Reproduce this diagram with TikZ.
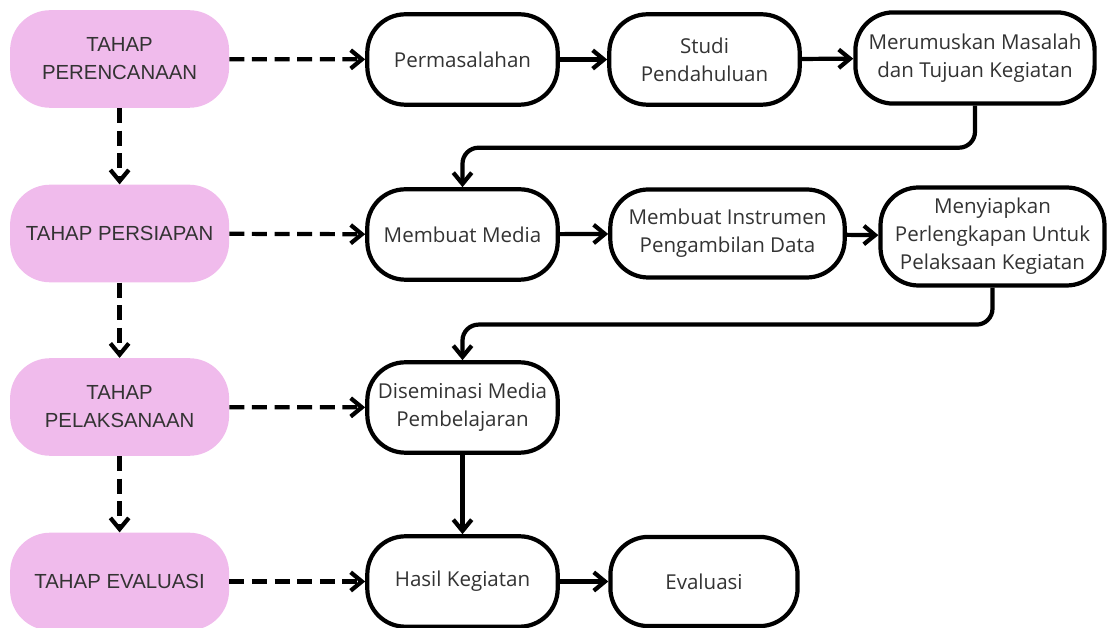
\documentclass[tikz,border=0pt]{standalone}
\usepackage{xcolor}
\usepackage{fontspec}
\setmainfont{Open Sans}
\newfontfamily\tahapfont{Liberation Sans}
\usepackage{tikz}
\usetikzlibrary{positioning,shapes,arrows.meta,calc}

\definecolor{merahmuda}{HTML}{F0BBEC}
\definecolor{teks}{HTML}{333333}

\tikzset{
    tahap/.style={rectangle, fill=merahmuda, rounded corners=1cm, minimum width=5.475cm,
        minimum height=2.44cm, align=center, text=teks,
        font=\tahapfont\fontsize{14.5pt}{19.9pt}\selectfont},
    langkah/.style={draw, rectangle, line width=3pt, rounded corners=0.95cm, fill=white,
        minimum width=4.76cm, minimum height=2.26cm, align=center, text=teks,
        font=\fontsize{14.6pt}{19.9pt}\selectfont},
    alur/.style={-{Straight Barb[length=2.8mm,width=4.6mm]}, line width=3pt},
    putus/.style={alur, dash pattern=on 3.75mm off 1.9mm}
}

\begin{document}
\begin{tikzpicture}
    \useasboundingbox (0,0) rectangle (27.7,15.7);

    % tahap (kiri)
    \node[tahap] (rencana) at (2.99,14.225) {TAHAP\\PERENCANAAN};
    \node[tahap] (siap) at (2.99,9.8625) {TAHAP PERSIAPAN};
    \node[tahap] (laksana) at (2.99,5.525) {TAHAP\\PELAKSANAAN};
    \node[tahap] (evaluasi) at (2.99,1.1625) {TAHAP EVALUASI};

    % kegiatan
    \node[langkah] (masalah) at (11.5625,14.2125) {Permasalahan};
    \node[langkah] (studi) at (17.6125,14.2125) {Studi\\Pendahuluan};
    \node[langkah, minimum width=5.98cm, minimum height=2.28cm] (tujuan) at (24.375,14.25)
        {Merumuskan Masalah\\dan Tujuan Kegiatan};

    \node[langkah] (media) at (11.5625,9.8375) {Membuat Media};
    \node[langkah, minimum width=5.86cm, minimum height=2.2cm] (instrumen) at (18.1875,9.8625)
        {Membuat Instrumen\\Pengambilan Data};
    \node[langkah, minimum width=5.6cm, minimum height=2.45cm] (lengkap) at (24.8125,9.7875)
        {Menyiapkan\\Perlengkapan Untuk\\Pelaksaan Kegiatan};

    \node[langkah] (diseminasi) at (11.5625,5.5125) {Diseminasi Media\\Pembelajaran};

    \node[langkah] (hasil) at (11.5625,1.1625) {Hasil Kegiatan};
    \node[langkah, minimum width=4.68cm, minimum height=2.23cm] (evaluasi2) at (17.6,1.1625) {Evaluasi};

    % panah putus-putus
    \draw[putus] (rencana) -- (masalah);
    \draw[putus] (siap) -- (media);
    \draw[putus] (laksana) -- (diseminasi);
    \draw[putus] (evaluasi) -- (hasil);
    \draw[putus] (rencana) -- (siap);
    \draw[putus] (siap) -- (laksana);
    \draw[putus] (laksana) -- (evaluasi);

    % panah kegiatan
    \draw[alur] (masalah) -- (studi);
    \draw[alur] (studi) -- (tujuan);
    \draw[alur, rounded corners=0.4cm] (tujuan.south) -- ++(0,-1.05) -| (media.north);
    \draw[alur] (media) -- (instrumen);
    \draw[alur] (instrumen) -- (lengkap);
    \draw[alur, rounded corners=0.4cm] (lengkap.south) -- ++(0,-0.925) -| (diseminasi.north);
    \draw[alur] (diseminasi) -- (hasil);
    \draw[alur] (hasil) -- (evaluasi2);
\end{tikzpicture}
\end{document}
